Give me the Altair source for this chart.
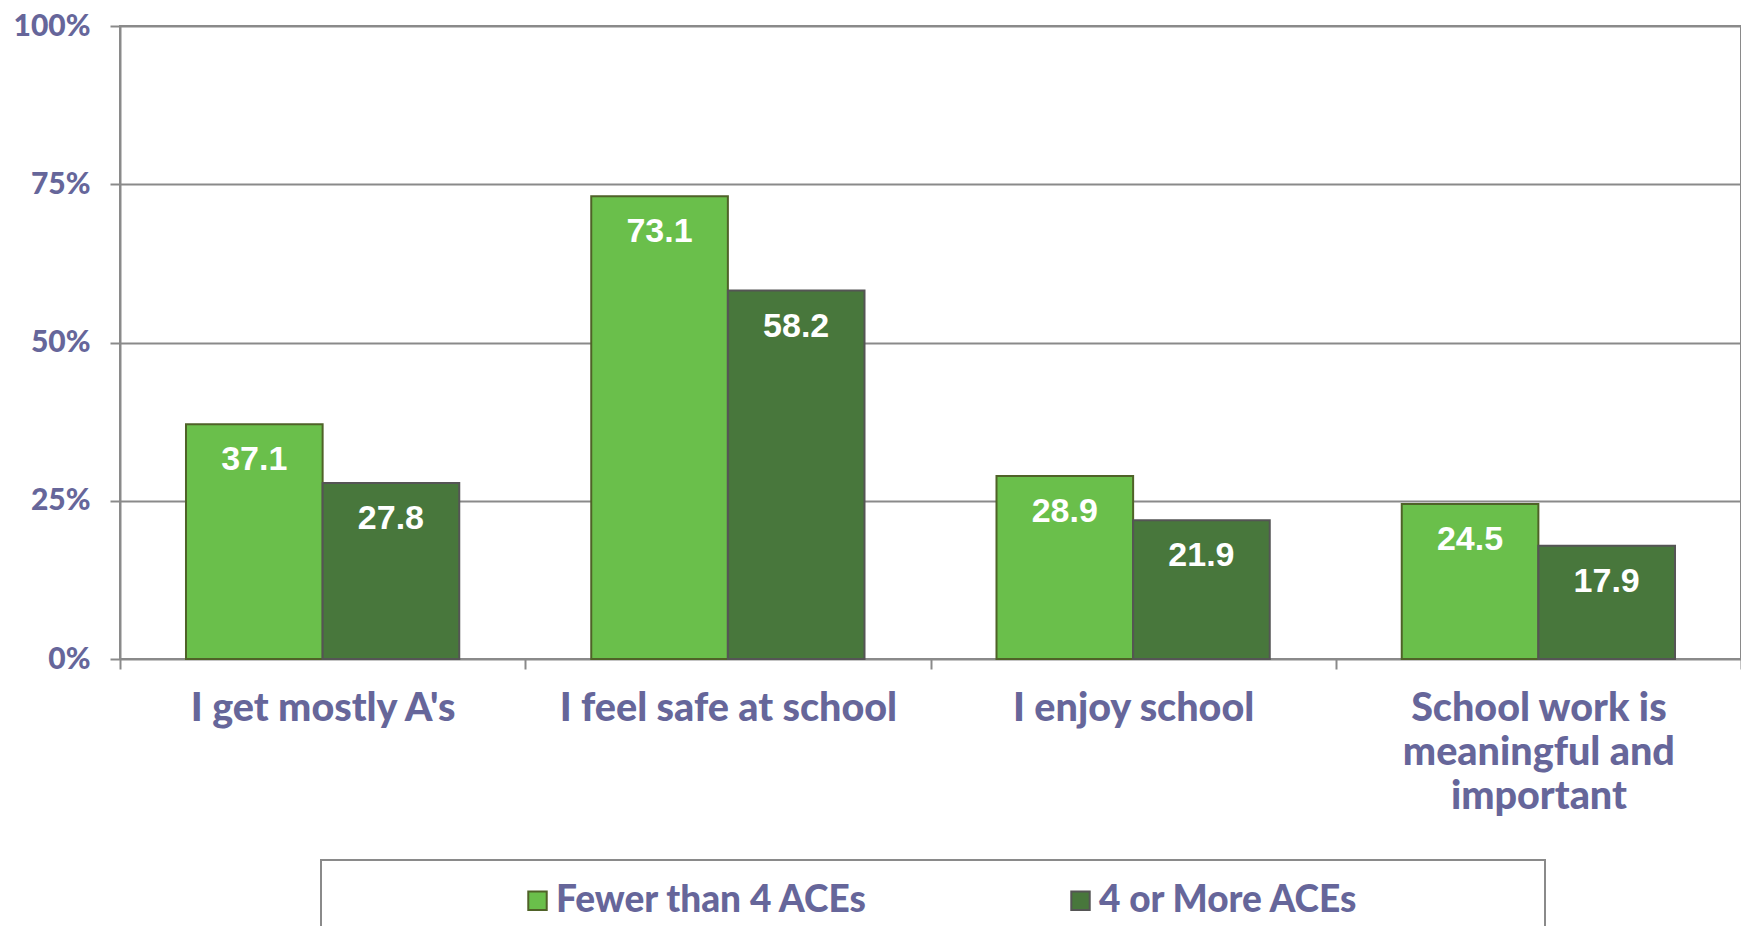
import altair as alt
import pandas as pd

categories = ["I get mostly A's", "I feel safe at school", "I enjoy school",
              "School work is meaningful and important"]
series = ["Fewer than 4 ACEs", "4 or More ACEs"]
fewer_values = [37.1, 73.1, 28.9, 24.5]
more_values = [27.8, 58.2, 21.9, 17.9]
y_ticks = [0, 25, 50, 75, 100]

rows = []
for c, a, b in zip(categories, fewer_values, more_values):
    rows.append({"category": c, "series": series[0], "value": a})
    rows.append({"category": c, "series": series[1], "value": b})
df = pd.DataFrame(rows)

LABEL = "#66669a"
GRID = "#8a8a8a"
W, H = 1621, 633

wrap_expr = ("datum.label == 'School work is meaningful and important' ? "
             "['School work is', 'meaningful and', 'important'] : datum.label")

x_enc = alt.X(
    "category:N", sort=categories,
    scale=alt.Scale(paddingInner=0, paddingOuter=0),
    axis=alt.Axis(title=None, labelAngle=0, tickBand="extent", ticks=True, tickSize=10,
                  tickColor=GRID, tickWidth=2, domain=False, labelFont="Lato",
                  labelFontWeight=900, labelFontSize=39.5, labelColor=LABEL,
                  labelPadding=20, labelLineHeight=44, labelLimit=500, labelExpr=wrap_expr),
)
y_enc = alt.Y(
    "value:Q", scale=alt.Scale(domain=[0, 100]),
    axis=alt.Axis(values=y_ticks, labelExpr="datum.value + '%'", title=None, grid=True,
                  gridColor=GRID, gridWidth=2, domainColor=GRID, domainWidth=2,
                  tickColor=GRID, tickWidth=2, tickSize=10, labelFont="Lato",
                  labelFontWeight=900, labelFontSize=30, labelColor=LABEL, labelPadding=20),
)
xo_enc = alt.XOffset("series:N", sort=series,
                     scale=alt.Scale(paddingInner=0, paddingOuter=0.483))

base = alt.Chart(df)

bars = base.mark_bar(strokeWidth=2).encode(
    x=x_enc, y=y_enc, xOffset=xo_enc,
    color=alt.Color("series:N", sort=series,
                    scale=alt.Scale(domain=series, range=["#6abf4b", "#48773c"]),
                    legend=alt.Legend(orient="none", legendX=399, legendY=856,
                                      direction="horizontal", title=None, symbolType="square",
                                      symbolSize=340, symbolStrokeColor="#4a5a3a",
                                      symbolStrokeWidth=2, symbolOpacity=1, labelFont="Lato",
                                      labelFontWeight=900, labelFontSize=37, labelColor=LABEL,
                                      labelOffset=0, columnPadding=194, labelLimit=600, padding=0)),
    stroke=alt.Stroke("series:N", sort=series,
                      scale=alt.Scale(domain=series, range=["#4f6228", "#555555"]), legend=None),
)

labels = base.mark_text(font="Liberation Sans", fontWeight="bold", fontSize=34, color="white",
                        baseline="top", dy=19).encode(
    x=x_enc, y=y_enc, xOffset=xo_enc, text=alt.Text("value:Q", format=".1f"),
)

frame = alt.Chart(alt.Data(values=[{}])).mark_rect(filled=False, stroke=GRID, strokeWidth=2).encode(
    x=alt.value(201), x2=alt.value(1425), y=alt.value(834), y2=alt.value(1000)
)

chart = alt.layer(bars, labels, frame).properties(
    width=W, height=H,
    autosize=alt.AutoSizeParams(type="none"),
    padding={"left": 112, "top": 18, "right": 0, "bottom": 267},
).configure_view(stroke=GRID, strokeWidth=2)

chart.save("out.html", embed_options={"renderer": "svg", "actions": False})
